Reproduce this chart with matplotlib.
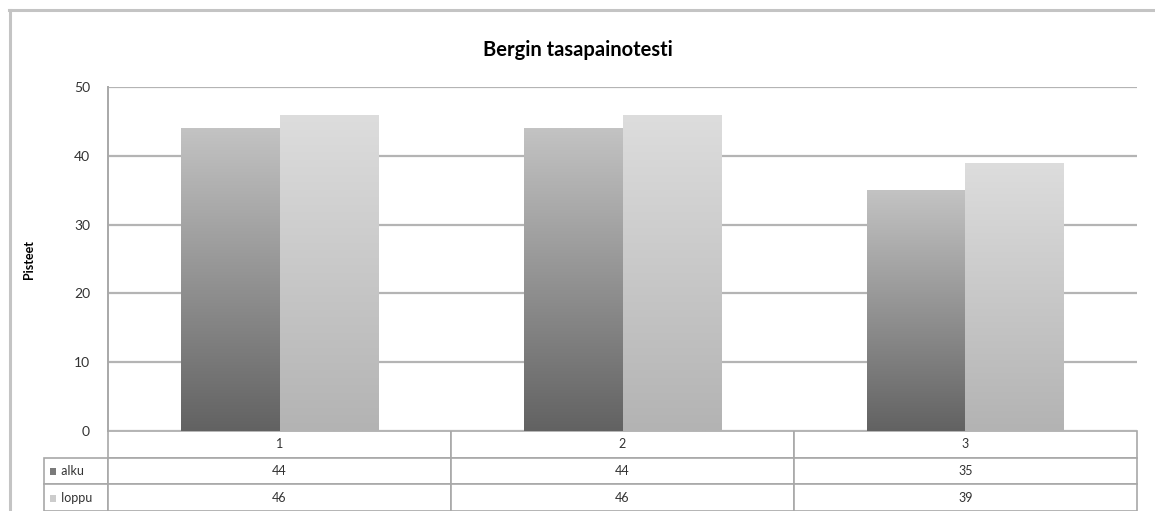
import numpy as np
import matplotlib.pyplot as plt
from matplotlib.colors import LinearSegmentedColormap
from matplotlib.lines import Line2D
from matplotlib.patches import Rectangle

plt.rcParams['font.family'] = ['Lato', 'DejaVu Sans']

categories = ['1', '2', '3']
series_names = ['alku', 'loppu']
alku = [44, 44, 35]
loppu = [46, 46, 39]
yticks = [0, 10, 20, 30, 40, 50]

W, H = 1155, 511
fig = plt.figure(figsize=(W / 100, H / 100), dpi=100)
x0, x1, y0, y1 = 108, 1137, 431, 87
ax = fig.add_axes([x0 / W, 1 - y0 / H, (x1 - x0) / W, (y0 - y1) / H])

# gradients: dark at bottom, light at top
cmaps = [LinearSegmentedColormap.from_list('a', ['#626262', '#c3c3c3']),
         LinearSegmentedColormap.from_list('b', ['#b3b3b3', '#dddddd'])]
grad = np.linspace(0, 1, 256).reshape(-1, 1)

x = np.arange(len(categories))
bw = 0.286
for i, vals in enumerate([alku, loppu]):
    bars = ax.bar(x + (i - 0.5) * bw, vals, bw, facecolor='none', edgecolor='none', zorder=3)
    for b in bars:
        bx = b.get_x()
        im = ax.imshow(grad, cmap=cmaps[i], origin='lower', aspect='auto',
                       extent=[bx, bx + b.get_width(), 0, b.get_height()], zorder=2)
        im.set_clip_path(b)

ax.set_xlim(-0.5, 2.5)
ax.set_ylim(0, 50)
ax.set_yticks(yticks)
ax.set_xticks([])
ax.yaxis.grid(True, color='#b4b4b4', linewidth=1.6)
ax.set_axisbelow(True)
for s in ['top', 'right', 'bottom']:
    ax.spines[s].set_visible(False)
ax.spines['left'].set_color('#a8a8a8')
ax.spines['left'].set_linewidth(1.4)
ax.tick_params(axis='y', length=0, pad=13, labelsize=10, labelcolor='#333333')
ax.set_ylabel('Pisteet', fontsize=9, fontweight='bold', labelpad=28)

# data table under the plot
lw_frac = 64 / (x1 - x0)
th = (511 - 431) / (y0 - y1)
rows = [[''] + categories,
        ['     ' + series_names[0]] + [str(v) for v in alku],
        ['     ' + series_names[1]] + [str(v) for v in loppu]]
tab = ax.table(cellText=rows, colWidths=[lw_frac, 1 / 3, 1 / 3, 1 / 3],
               cellLoc='center', bbox=[-lw_frac, -th, 1 + lw_frac, th])
tab.auto_set_font_size(False)
tab.set_fontsize(9)
for (r, c), cell in tab.get_celld().items():
    cell.set_edgecolor('#a8a8a8')
    cell.set_linewidth(1.2)
    cell.get_text().set_color('#333333')
    if c == 0:
        cell.get_text().set_ha('left')
        cell.PAD = 0.02
tab[0, 0].set_visible(False)

# legend keys in row labels
for i, col in enumerate(['#7a7a7a', '#cccccc']):
    yc = 1 - (471 + 27 * i) / H
    fig.patches.append(Rectangle((50 / W, yc - 3.5 / H), 6 / W, 7 / H,
                                 transform=fig.transFigure, facecolor=col,
                                 edgecolor='none'))

fig.text(578 / W, 1 - 50 / H, 'Bergin tasapainotesti', ha='center', va='center',
         fontsize=14.5, fontweight='bold')

# outer chart border
fig.lines.append(Line2D([9.5 / W, 9.5 / W], [0, 1 - 10 / H], transform=fig.transFigure,
                        color='#c4c4c4', linewidth=2.2))
fig.lines.append(Line2D([9 / W, 1], [1 - 10 / H, 1 - 10 / H], transform=fig.transFigure,
                        color='#c4c4c4', linewidth=2.2))

fig.savefig('out.png', dpi=100)
